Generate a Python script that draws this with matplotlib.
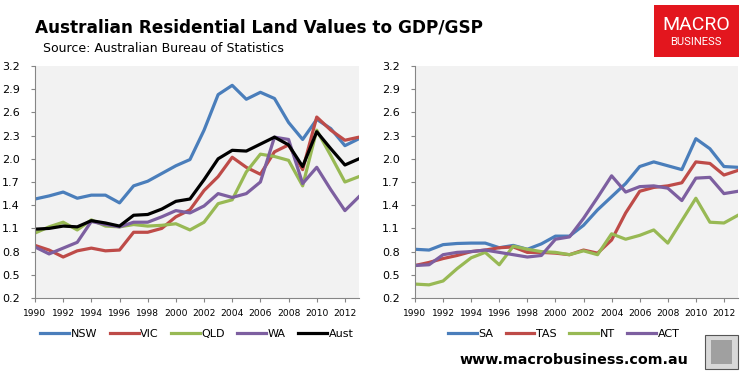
import matplotlib
matplotlib.use("Agg")
import matplotlib.pyplot as plt
from matplotlib.patches import FancyBboxPatch, Rectangle

years = list(range(1990, 2014))

nsw = [1.48, 1.52, 1.57, 1.49, 1.53, 1.53, 1.43, 1.65, 1.71, 1.81, 1.91, 1.99, 2.37, 2.83,
       2.95, 2.77, 2.86, 2.78, 2.47, 2.25, 2.51, 2.39, 2.17, 2.26]
vic = [0.88, 0.82, 0.73, 0.81, 0.845, 0.81, 0.82, 1.05, 1.05, 1.10, 1.25, 1.34, 1.59, 1.77,
       2.02, 1.89, 1.80, 2.09, 2.18, 1.86, 2.54, 2.37, 2.24, 2.28]
qld = [1.04, 1.12, 1.18, 1.08, 1.21, 1.13, 1.12, 1.15, 1.13, 1.14, 1.16, 1.08, 1.18, 1.42,
       1.47, 1.83, 2.06, 2.03, 1.98, 1.65, 2.37, 2.04, 1.70, 1.77]
wa = [0.86, 0.77, 0.845, 0.92, 1.19, 1.15, 1.12, 1.18, 1.18, 1.25, 1.33, 1.30, 1.39, 1.55,
      1.50, 1.55, 1.70, 2.28, 2.25, 1.68, 1.89, 1.60, 1.33, 1.51]
aust = [1.09, 1.10, 1.13, 1.12, 1.20, 1.17, 1.13, 1.27, 1.28, 1.35, 1.45, 1.48, 1.73, 2.00,
        2.11, 2.10, 2.19, 2.28, 2.18, 1.90, 2.35, 2.13, 1.92, 2.00]

sa = [0.83, 0.82, 0.89, 0.905, 0.91, 0.91, 0.85, 0.88, 0.83, 0.90, 1.00, 1.00, 1.14, 1.34,
      1.51, 1.68, 1.90, 1.96, 1.91, 1.86, 2.26, 2.13, 1.90, 1.89]
tas = [0.62, 0.66, 0.71, 0.75, 0.80, 0.82, 0.85, 0.86, 0.79, 0.79, 0.78, 0.76, 0.82, 0.78,
       0.95, 1.30, 1.58, 1.63, 1.65, 1.69, 1.96, 1.94, 1.79, 1.85]
nt = [0.38, 0.37, 0.42, 0.58, 0.72, 0.79, 0.63, 0.87, 0.83, 0.80, 0.79, 0.76, 0.81, 0.76,
      1.03, 0.96, 1.01, 1.08, 0.91, 1.20, 1.49, 1.18, 1.17, 1.27]
act = [0.62, 0.63, 0.76, 0.79, 0.80, 0.82, 0.79, 0.76, 0.73, 0.75, 0.96, 0.99, 1.23, 1.50,
       1.78, 1.57, 1.64, 1.65, 1.62, 1.46, 1.75, 1.76, 1.55, 1.58]

yticks = [0.2, 0.5, 0.8, 1.1, 1.4, 1.7, 2.0, 2.3, 2.6, 2.9, 3.2]
xticks = list(range(1990, 2013, 2))

BLUE, RED, GREEN, PURPLE, BLACK = "#4A7EBB", "#BE4B48", "#98B954", "#7D5FA0", "#000000"

W, H = 748, 372
fig = plt.figure(figsize=(W / 100, H / 100), dpi=100)
fig.patch.set_facecolor("white")


def fx(px):
    return px / W


def fy(py):
    return 1 - py / H


def setup(ax):
    ax.set_facecolor("#F2F2F2")
    ax.set_xlim(1990, 2013)
    ax.set_ylim(0.2, 3.2)
    ax.set_yticks(yticks)
    ax.set_yticklabels([f"{v:.1f}" for v in yticks], fontsize=8)
    ax.set_xticks(xticks)
    ax.set_xticklabels([str(v) for v in xticks], fontsize=6.6)
    for s in ("top", "right"):
        ax.spines[s].set_visible(False)
    for s in ("left", "bottom"):
        ax.spines[s].set_color("#868686")
        ax.spines[s].set_linewidth(0.8)
    ax.tick_params(axis="y", length=3, width=0.8, color="#868686", pad=8, labelcolor="#000000")
    ax.tick_params(axis="x", length=3, width=0.8, color="#868686", pad=5, labelcolor="#000000")


ax1 = fig.add_axes([fx(35), fy(298), fx(324), 232 / H])
ax2 = fig.add_axes([fx(415), fy(298), fx(323), 232 / H])
setup(ax1)
setup(ax2)

lw = 2.3
left_series = [("NSW", nsw, BLUE), ("VIC", vic, RED), ("QLD", qld, GREEN),
               ("WA", wa, PURPLE), ("Aust", aust, BLACK)]
for name, vals, c in left_series:
    ax1.plot(years, vals, color=c, lw=lw, label=name, solid_joinstyle="round")

right_series = [("SA", sa, BLUE), ("TAS", tas, RED), ("NT", nt, GREEN), ("ACT", act, PURPLE)]
for name, vals, c in right_series:
    ax2.plot(years, vals, color=c, lw=lw, label=name, solid_joinstyle="round")

leg_kw = dict(loc="center", ncol=5, frameon=False, fontsize=8, handlelength=2.6,
              handletextpad=0.15, columnspacing=1.1)
ax1.legend(bbox_to_anchor=(0.5, -0.155), **leg_kw)
leg_kw["ncol"] = 4
ax2.legend(bbox_to_anchor=(0.46, -0.155), **leg_kw)

# Titles
fig.text(fx(35), fy(27), "Australian Residential Land Values to GDP/GSP", fontsize=12.2,
         fontweight="bold", ha="left", va="center", color="#000000")
fig.text(fx(43), fy(48), "Source: Australian Bureau of Statistics", fontsize=9,
         ha="left", va="center", color="#000000")

# MACRO BUSINESS logo
logo = FancyBboxPatch((fx(654), fy(57)), fx(85), 52 / H, boxstyle="square,pad=0",
                      transform=fig.transFigure, facecolor="#E3161E", edgecolor="none")
fig.patches.append(logo)
fig.text(fx(696), fy(25), "MACRO", fontsize=14, family="Roboto", fontweight="normal",
         color="white", ha="center", va="center")
fig.text(fx(696), fy(42), "BUSINESS", fontsize=8, family="Roboto", color="white",
         ha="center", va="center")

# website text
fig.text(fx(574), fy(360), "www.macrobusiness.com.au", fontsize=10.3, fontweight="bold",
         ha="center", va="center", color="#000000")

# wolf logo placeholder
wolf = Rectangle((fx(705), fy(369)), fx(33), 34 / H, transform=fig.transFigure,
                 facecolor="#D8D8D8", edgecolor="#555555", lw=0.8)
fig.patches.append(wolf)
inner = Rectangle((fx(711), fy(364)), fx(21), 24 / H, transform=fig.transFigure,
                  facecolor="#A0A0A0", edgecolor="none")
fig.patches.append(inner)

fig.savefig("out.png", dpi=100)
